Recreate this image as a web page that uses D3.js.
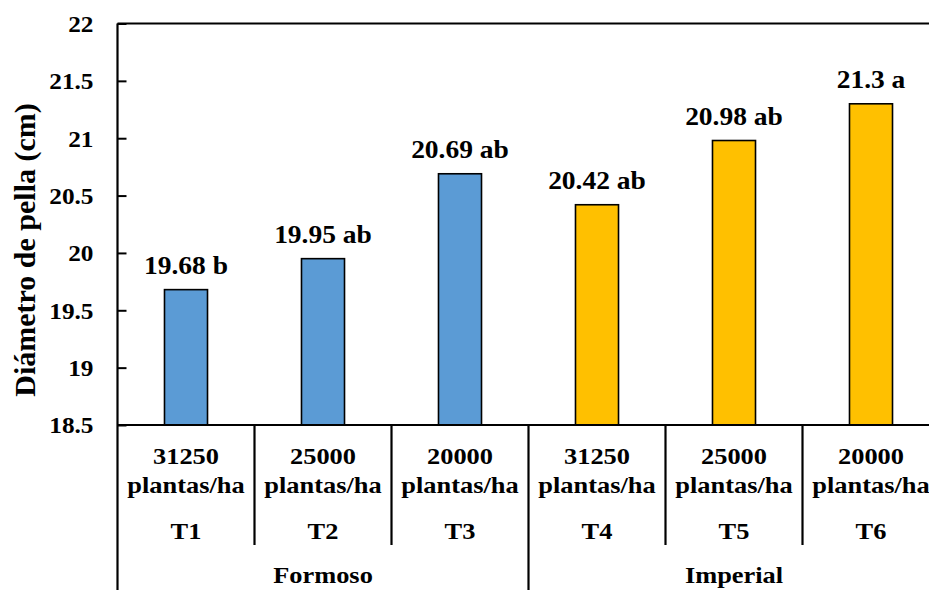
<!DOCTYPE html>
<html><head><meta charset="utf-8">
<script src="https://cdn.jsdelivr.net/npm/d3@7"></script>
<style>body{margin:0;background:#fff;}</style>
</head><body>
<svg id="c" width="929" height="590"></svg>
<script>
const treatments = ["T1","T2","T3","T4","T5","T6"];
const densities = ["31250","25000","20000","31250","25000","20000"];
const groups = ["Formoso","Formoso","Formoso","Imperial","Imperial","Imperial"];
const groupNames = ["Formoso","Imperial"];
const values = [19.68,19.95,20.69,20.42,20.98,21.3];
const labelText = ["19.68 b","19.95 ab","20.69 ab","20.42 ab","20.98 ab","21.3 a"];
const yTicks = [18.5,19,19.5,20,20.5,21,21.5,22];
const colors = {Formoso:"#5B9BD5", Imperial:"#FFC000"};

const FONT = "'Liberation Serif', 'Times New Roman', Times, serif";
const svg = d3.select("#c");
const pL = 117.5, pR = 939.5, pT = 23.5, pB = 425;
const x = d3.scaleBand().domain(treatments).range([pL,pR]).paddingInner(0.686).paddingOuter(0.343);
const y = d3.scaleLinear().domain([18.5,22]).range([pB, pT]);
const step = x.step();
const sx = 1.1;
const styleText = sel => sel.style("font-family",FONT).style("font-weight","bold").style("fill","#000");

// bars
svg.selectAll("rect.bar").data(treatments).enter().append("rect")
  .attr("x", d=>x(d)).attr("width", x.bandwidth())
  .attr("y", (d,i)=>y(values[i])).attr("height",(d,i)=>pB - y(values[i]))
  .attr("fill",(d,i)=>colors[groups[i]]).attr("stroke","#000").attr("stroke-width",1.6);

// value labels
svg.selectAll("text.val").data(treatments).enter().append("text")
  .attr("transform",(d,i)=>`translate(${x(d)+x.bandwidth()/2},${y(values[i])-16}) scale(${sx},1)`)
  .attr("text-anchor","middle").style("font-size","25px").call(styleText).text((d,i)=>labelText[i]);

// y axis
const yAxis = d3.axisLeft(y).tickValues(yTicks).tickSize(-9).tickPadding(24).tickFormat(d3.format("~g"));
const ga = svg.append("g").attr("transform",`translate(${pL},0)`).call(yAxis);
ga.attr("font-family",null).attr("font-size",null);
ga.select(".domain").remove();
ga.selectAll(".tick line").attr("stroke","#000").attr("stroke-width",2);
ga.selectAll(".tick text").style("font-size","23px").call(styleText).attr("text-anchor","end").attr("dy","0.34em");
ga.selectAll(".tick text").each(function(){
  const t=d3.select(this); const xx=+t.attr("x");
  t.attr("x",null).attr("transform",`translate(${xx},0) scale(${sx},1)`);
});

// lines
const line = (x1,y1,x2,y2)=>svg.append("line").attr("x1",x1).attr("y1",y1).attr("x2",x2).attr("y2",y2).attr("stroke","#000").attr("stroke-width",2.2);
line(pL,pT,929,pT);
line(pL,pT,pL,590);
line(pL,pB,929,pB);
treatments.forEach((d,i)=>{
  if(i===0) return;
  const xb = pL + step*i;
  if(groups[i]!==groups[i-1]) line(xb,pB,xb,590);
  else line(xb,pB,xb,545);
});

// category labels
const cat = svg.append("g");
const cfs = "24px";
treatments.forEach((d,i)=>{
  const cx = x(d)+x.bandwidth()/2;
  cat.append("text").attr("transform",`translate(${cx},464) scale(${sx},1)`).attr("text-anchor","middle").style("font-size",cfs).call(styleText).text(densities[i]);
  cat.append("text").attr("transform",`translate(${cx},493) scale(${sx},1)`).attr("text-anchor","middle").style("font-size",cfs).call(styleText).text("plantas/ha");
  cat.append("text").attr("transform",`translate(${cx},539) scale(${sx},1)`).attr("text-anchor","middle").style("font-size",cfs).call(styleText).text(d);
});
groupNames.forEach(g=>{
  const idx = treatments.filter((d,i)=>groups[i]===g);
  const cx = (x(idx[0]) + x(idx[idx.length-1]) + x.bandwidth())/2;
  cat.append("text").attr("transform",`translate(${cx},583) scale(${sx},1)`).attr("text-anchor","middle").style("font-size",cfs).call(styleText).text(g);
});

// y label
svg.append("text").attr("transform",`translate(35,250) rotate(-90)`).attr("text-anchor","middle")
  .style("font-size","30px").call(styleText).text("Diámetro de pella (cm)");
</script>
</body></html>
